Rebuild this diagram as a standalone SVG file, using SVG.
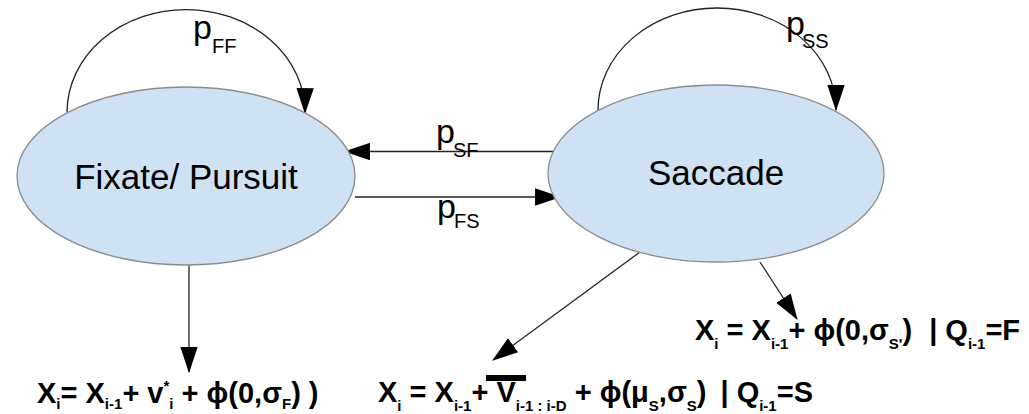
<svg xmlns="http://www.w3.org/2000/svg" width="1029" height="414" viewBox="0 0 1029 414">
<defs>
<marker id="ah" markerUnits="userSpaceOnUse" markerWidth="26" markerHeight="18" viewBox="0 0 24 16" refX="23" refY="8" orient="auto">
<path d="M0,0 L24,8 L0,16 z" fill="#000"/>
</marker>
</defs>
<style>
.node{fill:#cfe2f3;stroke:#8c8c8c;stroke-width:1.3}
.lbl{font-family:"Liberation Sans",Arial,sans-serif;font-size:35px;fill:#000}
.p{font-family:"Liberation Sans",Arial,sans-serif;font-size:34px;fill:#000}
.ps{font-family:"Liberation Sans",Arial,sans-serif;font-size:20px;fill:#000}
.edge{fill:none;stroke:#222;stroke-width:1.3;marker-end:url(#ah)}
.f{font-family:"Liberation Sans","DejaVu Sans",Arial,sans-serif;font-size:29px;font-weight:bold;fill:#000}
.s{font-size:15px}
</style>
<g id="connectors">
<path class="edge" d="M67,112 A119,103 0 0 1 305,113"/>
<path class="edge" d="M598,110 A119,102 0 0 1 836,110"/>
<path class="edge" d="M553,151.5 L345,151.5"/>
<path class="edge" d="M355,197 L560,197"/>
<path class="edge" d="M189,265 L189,372"/>
<path class="edge" d="M640,252 L493,360"/>
<path class="edge" d="M760,262 L797,319"/>
</g>
<g id="fixate">
<ellipse class="node" cx="186" cy="176" rx="169" ry="89"/>
<text class="lbl" x="186" y="189" text-anchor="middle">Fixate/ Pursuit</text>
</g>
<g id="saccade">
<ellipse class="node" cx="716" cy="173.5" rx="168" ry="88.5"/>
<text class="lbl" x="716" y="185" text-anchor="middle">Saccade</text>
</g>
<g id="edge-labels">
<text x="193" y="39"><tspan class="p">p</tspan><tspan class="ps" x="212" y="53">FF</tspan></text>
<text x="786" y="35"><tspan class="p">p</tspan><tspan class="ps" x="802" y="48">SS</tspan></text>
<text x="436" y="143"><tspan class="p">p</tspan><tspan class="ps" x="453" y="157">SF</tspan></text>
<text x="437" y="218"><tspan class="p">p</tspan><tspan class="ps" x="454" y="228">FS</tspan></text>
</g>
<g id="formula-fixate">
<text class="f" x="37" y="403">X<tspan class="s" dy="6">i</tspan><tspan dy="-6">= X</tspan><tspan class="s" dy="6">i-1</tspan><tspan dy="-6">+ v</tspan><tspan class="s" dy="-12">*</tspan><tspan class="s" dy="18">i</tspan><tspan dy="-6"> + ϕ(0,σ</tspan><tspan class="s" dy="6">F</tspan><tspan dy="-6">) )</tspan></text>
</g>
<g id="formula-saccade">
<text class="f" x="378" y="402">X<tspan class="s" dy="9">i</tspan><tspan dy="-9"> = X</tspan><tspan class="s" dy="9">i-1</tspan><tspan dy="-9">+ V</tspan><tspan class="s" dy="9">i-1 : i-D</tspan><tspan dy="-9"> + ϕ(μ</tspan><tspan class="s" dy="9">S</tspan><tspan dy="-9">,σ</tspan><tspan class="s" dy="9">S</tspan><tspan dy="-9">) </tspan><tspan dx="6">| Q</tspan><tspan class="s" dy="9">i-1</tspan><tspan dy="-9">=S</tspan></text>
<rect x="486" y="375" width="40" height="6" fill="#000"/>
</g>
<g id="formula-continue">
<text class="f" x="695" y="340">X<tspan class="s" dy="9">i</tspan><tspan dy="-9"> = X</tspan><tspan class="s" dy="9">i-1</tspan><tspan dy="-9">+ ϕ(0,σ</tspan><tspan class="s" dy="9">S'</tspan><tspan dy="-9">) </tspan><tspan dx="9">|  Q</tspan><tspan class="s" dy="9">i-1</tspan><tspan dy="-9">=F</tspan></text>
</g>
</svg>
